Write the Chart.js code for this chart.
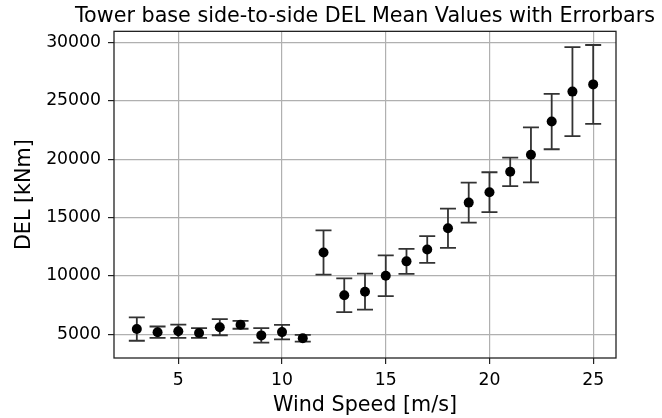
<!DOCTYPE html>
<html>
<head>
    <title>Tower base side-to-side DEL</title>
    <style>
        body {
            margin: 0;
            padding: 0;
            background-color: #ffffff;
        }
        .chart-container {
            width: 662px;
            height: 418px;
        }
    </style>
    <script src="https://cdn.jsdelivr.net/npm/chart.js"></script>
</head>
<body>
    <div class="chart-container">
        <canvas id="delChart"></canvas>
    </div>
    <script>
        // wind speed bins [m/s]
        const windSpeed = [3, 4, 5, 6, 7, 8, 9, 10, 11, 12, 13, 14, 15, 16, 17, 18, 19, 20, 21, 22, 23, 24, 25];
        // mean DEL [kNm]
        const delMean = [5430, 5160, 5240, 5090, 5590, 5800, 4890, 5170, 4645, 12000, 8330, 8640, 10000, 11240, 12260, 14080, 16280, 17170, 18920, 20380, 23230, 25800, 26420];
        // error bar half-length (std) [kNm]
        const delErr = [1000, 490, 570, 420, 690, 340, 620, 615, 285, 1905, 1445, 1545, 1750, 1075, 1145, 1680, 1720, 1715, 1220, 2360, 2375, 3815, 3380];

        const xTicks = [5, 10, 15, 20, 25];
        const yTicks = [5000, 10000, 15000, 20000, 25000, 30000];

        Chart.defaults.font.family = "'DejaVu Sans', sans-serif";
        Chart.defaults.color = '#000';

        // error bars drawn under the markers, plus the box round the plot
        const errorBars = {
            id: 'errorBars',
            afterLayout(chart) {
                // let the title run wider than the plot (no squeezing), centred on it
                const t = chart.titleBlock;
                const a = chart.chartArea;
                const c = (a.left + a.right) / 2;
                t.left = c - 320;
                t.right = c + 320;
                t.width = 640;
            },
            beforeDatasetsDraw(chart) {
                const ctx = chart.ctx;
                const x = chart.scales.x;
                const y = chart.scales.y;
                const area = chart.chartArea;
                ctx.save();
                ctx.strokeStyle = '#333333';
                ctx.lineWidth = 1.8;
                windSpeed.forEach((w, i) => {
                    const px = x.getPixelForValue(w);
                    const top = y.getPixelForValue(delMean[i] + delErr[i]);
                    const bot = y.getPixelForValue(delMean[i] - delErr[i]);
                    ctx.beginPath();
                    ctx.moveTo(px, top);
                    ctx.lineTo(px, bot);
                    ctx.moveTo(px - 8, top);
                    ctx.lineTo(px + 8, top);
                    ctx.moveTo(px - 8, bot);
                    ctx.lineTo(px + 8, bot);
                    ctx.stroke();
                });
                ctx.strokeStyle = '#222';
                ctx.lineWidth = 1.3;
                ctx.strokeRect(area.left, area.top, area.right - area.left, area.bottom - area.top);
                ctx.restore();
            }
        };

        const plainTick = v => String(v);

        new Chart(document.getElementById('delChart'), {
            type: 'scatter',
            data: {
                datasets: [{
                    label: 'DEL',
                    data: windSpeed.map((w, i) => ({ x: w, y: delMean[i] })),
                    backgroundColor: '#000',
                    borderColor: '#000',
                    pointRadius: 5,
                    pointHoverRadius: 5,
                    borderWidth: 0
                }]
            },
            options: {
                responsive: true,
                maintainAspectRatio: false,
                animation: false,
                layout: {
                    padding: { left: 0, right: 46, top: 0, bottom: 0 }
                },
                plugins: {
                    legend: { display: false },
                    tooltip: { enabled: false },
                    title: {
                        display: true,
                        fullSize: false,
                        text: 'Tower base side-to-side DEL Mean Values with Errorbars',
                        color: '#000',
                        font: { size: 20.7, weight: 'normal', lineHeight: 1.2 },
                        padding: { top: 4.5, bottom: 2 }
                    }
                },
                scales: {
                    x: {
                        type: 'linear',
                        min: 1.9,
                        max: 26.1,
                        afterBuildTicks: scale => { scale.ticks = xTicks.map(v => ({ value: v })); },
                        afterFit: scale => { scale.height = 60; },
                        ticks: { font: { size: 17.25 }, padding: 6, color: '#000', callback: plainTick },
                        grid: { color: '#b0b0b0', lineWidth: 1.2, tickColor: '#222', tickLength: 6 },
                        border: { display: false },
                        title: {
                            display: true,
                            text: 'Wind Speed [m/s]',
                            color: '#000',
                            font: { size: 20.7 },
                            padding: { top: 2, bottom: 0 }
                        }
                    },
                    y: {
                        type: 'linear',
                        min: 2950,
                        max: 30970,
                        afterBuildTicks: scale => { scale.ticks = yTicks.map(v => ({ value: v })); },
                        afterFit: scale => { scale.width = 114; },
                        ticks: { font: { size: 17.25 }, padding: 7, color: '#000', callback: plainTick },
                        grid: { color: '#b0b0b0', lineWidth: 1.2, tickColor: '#222', tickLength: 6 },
                        border: { display: false },
                        title: {
                            display: true,
                            text: 'DEL [kNm]',
                            color: '#000',
                            font: { size: 20.7 },
                            padding: { top: 12, bottom: 4 }
                        }
                    }
                }
            },
            plugins: [errorBars]
        });
    </script>
</body>
</html>
